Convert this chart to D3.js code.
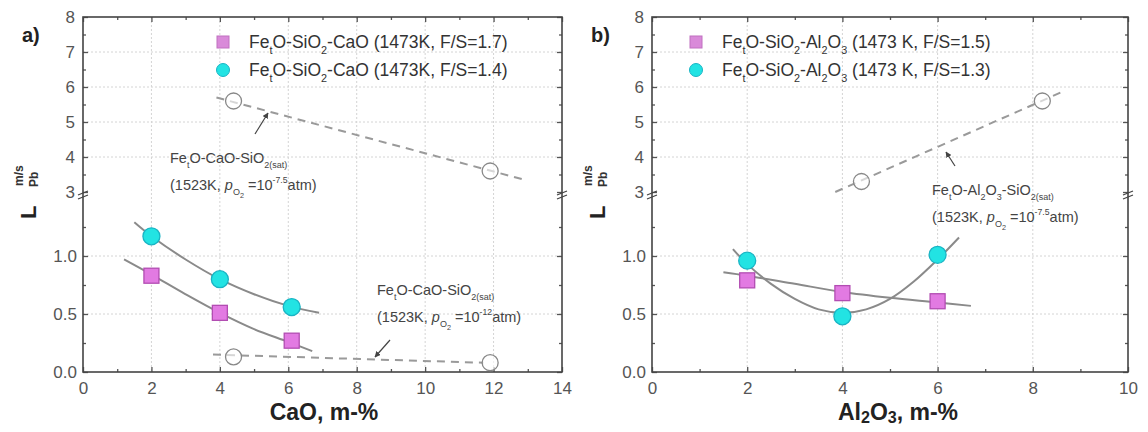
<!DOCTYPE html>
<html><head><meta charset="utf-8">
<script src="https://cdn.jsdelivr.net/npm/d3@7"></script>
<style>body{margin:0;background:#fff}svg{display:block;font-family:Arial,"Liberation Sans",sans-serif}</style>
</head><body><svg id="c" width="1148" height="432"></svg>
<script>
// ---------- data ----------
const xTicksA = [0, 2, 4, 6, 8, 10, 12, 14];
const xTicksB = [0, 2, 4, 6, 8, 10];
const yTicksHi = [3, 4, 5, 6, 7, 8];
const yTicksLo = [0.0, 0.5, 1.0];

// panel a) CaO
const caoSqX = [2, 4, 6.1];
const caoSqY = [0.83, 0.51, 0.27];
const caoCiX = [2, 4, 6.1];
const caoCiY = [1.17, 0.80, 0.56];
const caoFitSqX = [1.2, 2, 3, 4, 5, 6, 6.7];
const caoFitSqY = [0.97, 0.84, 0.67, 0.51, 0.37, 0.26, 0.18];
const caoFitCiX = [1.5, 2, 3, 4, 5, 6, 6.9];
const caoFitCiY = [1.29, 1.17, 0.97, 0.80, 0.67, 0.57, 0.51];
const caoOpenHiX = [4.4, 11.9];
const caoOpenHiY = [5.6, 3.6];
const caoDashHiX = [3.9, 12.9];
const caoDashHiY = [5.7, 3.35];
const caoOpenLoX = [4.4, 11.9];
const caoOpenLoY = [0.13, 0.08];
const caoDashLoX = [3.8, 11.7];
const caoDashLoY = [0.15, 0.08];

// panel b) Al2O3
const alSqX = [2, 4, 6];
const alSqY = [0.79, 0.68, 0.61];
const alCiX = [2, 4, 6];
const alCiY = [0.96, 0.48, 1.01];
const alFitSqX = [1.5, 2, 3, 4, 5, 6, 6.7];
const alFitSqY = [0.86, 0.83, 0.76, 0.69, 0.64, 0.60, 0.57];
const alFitCiX = [1.7, 2, 2.5, 3, 3.5, 4, 4.5, 5, 5.5, 6, 6.45];
const alFitCiY = [1.06, 0.93, 0.76, 0.63, 0.54, 0.51, 0.54, 0.63, 0.78, 0.97, 1.16];
const alOpenHiX = [4.4, 8.2];
const alOpenHiY = [3.3, 5.6];
const alDashHiX = [3.85, 8.6];
const alDashHiY = [3.0, 5.85];

const legendA = ["F/S=1.7", "F/S=1.4"];
const legendB = ["F/S=1.5", "F/S=1.3"];

// ---------- drawing ----------
const svg = d3.select("#c");
const defs = svg.append("defs");
defs.append("marker").attr("id", "ah").attr("viewBox", "0 0 10 10").attr("refX", 9).attr("refY", 5)
  .attr("markerWidth", 5).attr("markerHeight", 5).attr("orient", "auto")
  .append("path").attr("d", "M0,0L10,5L0,10z").attr("fill", "#444");

const yLo = d3.scaleLinear([0, 1.5], [372, 198]);
const yHi = d3.scaleLinear([3, 8], [192, 17]);
const Y = v => v <= 2 ? yLo(v) : yHi(v);

const magFill = "#e27ae2", magStroke = "#b24db2";
const cyFill = "#22e3e3", cyStroke = "#19b4c4";

function rich(g, x, y, segs, size, attrs) {
  const t = g.append("text").attr("x", x).attr("y", y).attr("font-size", size);
  Object.entries(attrs || {}).forEach(([k, v]) => t.attr(k, v));
  let cur = 0;
  segs.forEach(([s, st]) => {
    let fs = size, shift = 0;
    if (st === "sub") { fs = size * 0.62; shift = size * 0.32; }
    if (st === "subT") { fs = size * 0.7; shift = size * 0.12; }
    if (st === "sup") { fs = size * 0.6; shift = -size * 0.5; }
    if (st === "subsub") { fs = size * 0.5; shift = size * 0.55; }
    const ts = t.append("tspan").attr("dy", (shift - cur).toFixed(2)).attr("font-size", fs).text(s);
    if (st === "i") ts.attr("font-style", "italic");
    cur = shift;
  });
  return t;
}

function panel(opt) {
  const g = svg.append("g");
  const x = opt.x;
  const [x0, x1] = x.range();
  const top = 17, bot = 372;

  // grid
  const gridC = "#d4d4d4";
  opt.xTicks.slice(1, -1).forEach(v => {
    g.append("line").attr("x1", x(v)).attr("x2", x(v)).attr("y1", top).attr("y2", bot)
      .attr("stroke", gridC).attr("stroke-width", 1).attr("stroke-dasharray", "2,2");
  });
  [4, 5, 6, 7].forEach(v => g.append("line").attr("x1", x0).attr("x2", x1).attr("y1", yHi(v)).attr("y2", yHi(v))
    .attr("stroke", gridC).attr("stroke-dasharray", "2,2"));
  [0.5, 1.0].forEach(v => g.append("line").attr("x1", x0).attr("x2", x1).attr("y1", yLo(v)).attr("y2", yLo(v))
    .attr("stroke", gridC).attr("stroke-dasharray", "2,2"));

  // axes
  const axC = "#555";
  const styleAxis = s => {
    s.select(".domain").remove();
    s.selectAll("line").attr("stroke", axC).attr("stroke-width", 1.3);
    s.selectAll("text").attr("fill", "#555").attr("font-size", 17).attr("font-family", "Arial, Liberation Sans, sans-serif");
  };
  const xMinor = d3.range(x.domain()[0] + 1, x.domain()[1], 2);
  g.append("g").attr("transform", `translate(0,${bot})`)
    .call(d3.axisBottom(x).tickValues(opt.xTicks).tickFormat(d3.format("d")).tickSize(-5).tickPadding(10)).call(styleAxis);
  g.append("g").attr("transform", `translate(0,${bot})`)
    .call(d3.axisBottom(x).tickValues(xMinor).tickFormat("").tickSize(-3)).call(styleAxis);
  g.append("g").attr("transform", `translate(0,${top})`)
    .call(d3.axisTop(x).tickValues(opt.xTicks).tickFormat("").tickSize(-5)).call(styleAxis);
  g.append("g").attr("transform", `translate(0,${top})`)
    .call(d3.axisTop(x).tickValues(xMinor).tickFormat("").tickSize(-3)).call(styleAxis);

  const hiMinor = [3.5, 4.5, 5.5, 6.5, 7.5];
  const loMinor = [0.25, 0.75, 1.25];
  [[d3.axisLeft, x0, true], [d3.axisRight, x1, false]].forEach(([ax, pos, lab]) => {
    g.append("g").attr("transform", `translate(${pos},0)`)
      .call(ax(yHi).tickValues(yTicksHi).tickFormat(lab ? d3.format("d") : "").tickSize(-5).tickPadding(8)).call(styleAxis);
    g.append("g").attr("transform", `translate(${pos},0)`)
      .call(ax(yHi).tickValues(hiMinor).tickFormat("").tickSize(-3)).call(styleAxis);
    g.append("g").attr("transform", `translate(${pos},0)`)
      .call(ax(yLo).tickValues(yTicksLo).tickFormat(lab ? d3.format(".1f") : "").tickSize(-5).tickPadding(6)).call(styleAxis);
    g.append("g").attr("transform", `translate(${pos},0)`)
      .call(ax(yLo).tickValues(loMinor).tickFormat("").tickSize(-3)).call(styleAxis);
  });

  // frame
  g.append("rect").attr("x", x0).attr("y", top).attr("width", x1 - x0).attr("height", bot - top)
    .attr("fill", "none").attr("stroke", "#444").attr("stroke-width", 1.6);
  // break marks
  [x0, x1].forEach(px => {
    [-2, 2].forEach(o => g.append("line").attr("x1", px - 5).attr("x2", px + 5)
      .attr("y1", 195 + o + 2).attr("y2", 195 + o - 2).attr("stroke", "#444").attr("stroke-width", 1.2));
  });

  // dashed reference lines
  const line = d3.line().x(d => x(d[0])).y(d => Y(d[1]));
  opt.dashes.forEach(([xs, ys]) => {
    g.append("path").attr("d", line(d3.zip(xs, ys))).attr("fill", "none")
      .attr("stroke", "#9a9a9a").attr("stroke-width", 2).attr("stroke-dasharray", "8,6");
  });
  opt.opens.forEach(([xs, ys]) => {
    d3.zip(xs, ys).forEach(d => g.append("circle").attr("cx", x(d[0])).attr("cy", Y(d[1])).attr("r", 8)
      .attr("fill", "#fff").attr("fill-opacity", 0.6).attr("stroke", "#888").attr("stroke-width", 1.3));
  });

  // fits
  const curve = d3.line().x(d => x(d[0])).y(d => Y(d[1])).curve(d3.curveCatmullRom);
  opt.fits.forEach(([xs, ys]) => {
    g.append("path").attr("d", curve(d3.zip(xs, ys))).attr("fill", "none")
      .attr("stroke", "#8a8a8a").attr("stroke-width", 2);
  });

  // markers
  d3.zip(opt.sq[0], opt.sq[1]).forEach(d => g.append("rect")
    .attr("x", x(d[0]) - 7.5).attr("y", Y(d[1]) - 7.5).attr("width", 15).attr("height", 15)
    .attr("fill", magFill).attr("stroke", magStroke).attr("stroke-width", 1.3));
  d3.zip(opt.ci[0], opt.ci[1]).forEach(d => g.append("circle")
    .attr("cx", x(d[0])).attr("cy", Y(d[1])).attr("r", 8.5)
    .attr("fill", cyFill).attr("stroke", cyStroke).attr("stroke-width", 1.3));

  // arrows
  opt.arrows.forEach(a => g.append("line").attr("x1", a[0]).attr("y1", a[1]).attr("x2", a[2]).attr("y2", a[3])
    .attr("stroke", "#444").attr("stroke-width", 1.2).attr("marker-end", "url(#ah)"));

  // legend
  const lx = opt.legX;
  g.append("rect").attr("x", lx - 6).attr("y", 42 - 6).attr("width", 12).attr("height", 12)
    .attr("fill", "#d98ad9").attr("stroke", "#c070c0");
  g.append("circle").attr("cx", lx).attr("cy", 70).attr("r", 6.5).attr("fill", cyFill).attr("stroke", cyStroke);
  opt.legTexts.forEach((segs, i) => rich(g, lx + 26, 48 + i * 28, segs, 17.5, { fill: "#333" }));

  // panel label
  g.append("text").attr("x", x0 - 61).attr("y", 42).attr("font-size", 20).attr("font-weight", "bold")
    .attr("fill", "#222").text(opt.label);

  // y label
  const yl = g.append("g").attr("transform", `translate(${x0 - 47},219) rotate(-90)`);
  yl.append("text").attr("x", 0).attr("y", 0).attr("font-size", 22).attr("font-weight", "bold").attr("fill", "#222").text("L");
  yl.append("text").attr("x", 33).attr("y", -13).attr("font-size", 12).attr("font-weight", "bold").attr("fill", "#333").text("m/s");
  yl.append("text").attr("x", 32).attr("y", 2).attr("font-size", 12).attr("font-weight", "bold").attr("fill", "#333").text("Pb");

  // x title
  rich(g, opt.xTitleX, 420, opt.xTitle, 23, { "font-weight": "bold", fill: "#222", "text-anchor": "middle" });

  // annotations
  opt.notes.forEach(n => {
    rich(g, n.x, n.y, n.l1, 14.5, { fill: "#444" });
    rich(g, n.x, n.y + 27, n.l2, 14.5, { fill: "#444" });
  });
}

const xA = d3.scaleLinear([0, 14], [83, 562]);
const xB = d3.scaleLinear([0, 10], [652, 1128]);

const line2 = p => [["(1523K, "], ["p", "i"], ["O", "sub"], ["2", "subsub"], [" =10"], [p, "sup"], ["atm)"]];

panel({
  x: xA, xTicks: xTicksA, label: "a)",
  sq: [caoSqX, caoSqY], ci: [caoCiX, caoCiY],
  fits: [[caoFitSqX, caoFitSqY], [caoFitCiX, caoFitCiY]],
  dashes: [[caoDashHiX, caoDashHiY], [caoDashLoX, caoDashLoY]],
  opens: [[caoOpenHiX, caoOpenHiY], [caoOpenLoX, caoOpenLoY]],
  arrows: [[255, 134, 268, 113], [390, 340, 375, 357]],
  legX: 223,
  legTexts: legendA.map(s => [["Fe"], ["t", "sub"], ["O-SiO"], ["2", "sub"], ["-CaO (1473K, " + s + ")"]]),
  xTitleX: 324, xTitle: [["CaO, m-%"]],
  notes: [
    { x: 170, y: 163, l1: [["Fe"], ["t", "sub"], ["O-CaO-SiO"], ["2(sat)", "sub"]], l2: line2("-7.5") },
    { x: 377, y: 295, l1: [["Fe"], ["t", "sub"], ["O-CaO-SiO"], ["2(sat)", "sub"]], l2: line2("-12") }
  ]
});

panel({
  x: xB, xTicks: xTicksB, label: "b)",
  sq: [alSqX, alSqY], ci: [alCiX, alCiY],
  fits: [[alFitSqX, alFitSqY], [alFitCiX, alFitCiY]],
  dashes: [[alDashHiX, alDashHiY]],
  opens: [[alOpenHiX, alOpenHiY]],
  arrows: [[955, 166, 946, 152]],
  legX: 696,
  legTexts: legendB.map(s => [["Fe"], ["t", "sub"], ["O-SiO"], ["2", "sub"], ["-Al"], ["2", "sub"], ["O"], ["3", "sub"], [" (1473 K, " + s + ")"]]),
  xTitleX: 898, xTitle: [["Al"], ["2", "subT"], ["O"], ["3", "subT"], [", m-%"]],
  notes: [
    { x: 932, y: 195, l1: [["Fe"], ["t", "sub"], ["O-Al"], ["2", "sub"], ["O"], ["3", "sub"], ["-SiO"], ["2(sat)", "sub"]], l2: line2("-7.5") }
  ]
});
</script></body></html>
